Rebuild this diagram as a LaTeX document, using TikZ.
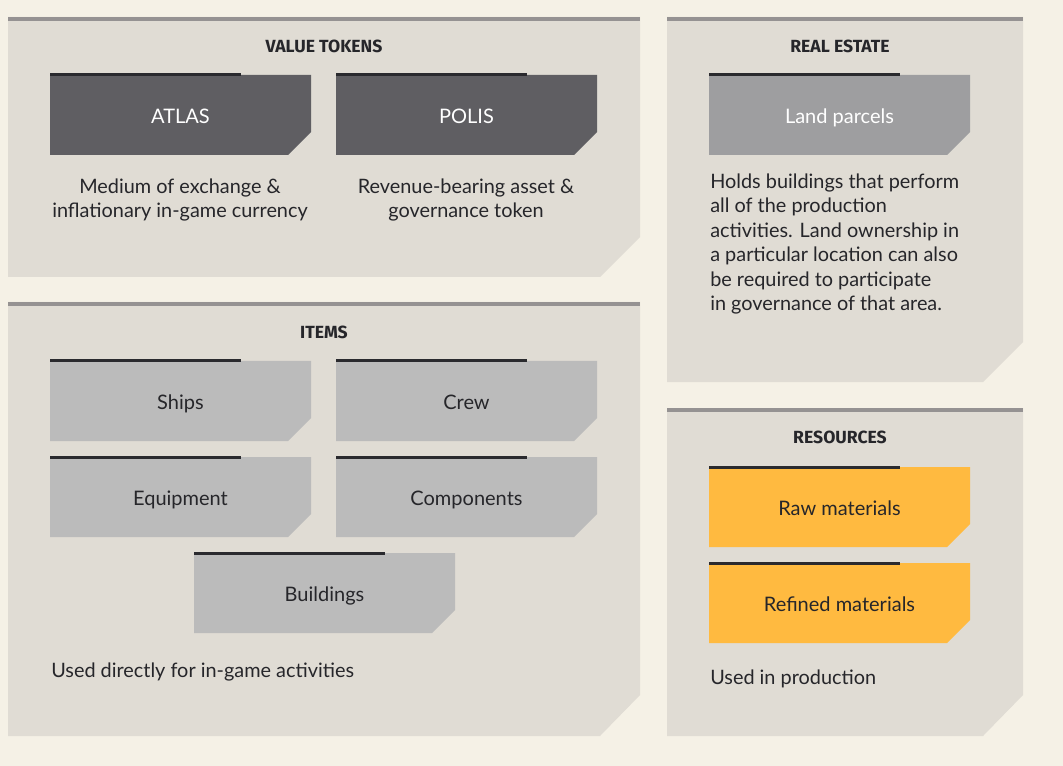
\documentclass[tikz,border=0pt]{standalone}
\usepackage{fontspec}
\setmainfont{Lato}
\newfontfamily\headfont{Fira Sans}
\usepackage{xcolor}
\usetikzlibrary{shapes.misc, positioning}
\definecolor{bgcream}{HTML}{F5F1E6}
\definecolor{panelgrey}{HTML}{E0DCD4}
\definecolor{bargrey}{HTML}{959292}
\definecolor{darkbox}{HTML}{5F5E62}
\definecolor{lightbox}{HTML}{BBBBBB}
\definecolor{midbox}{HTML}{9E9EA0}
\definecolor{amber}{HTML}{FFBA40}
\definecolor{inkline}{HTML}{2A2A2E}
\definecolor{ink}{HTML}{26262A}

\begin{document}
\begin{tikzpicture}[x=0.75pt, y=-0.75pt]
\tikzstyle{assetbox} = [chamfered rectangle, chamfered rectangle corners=south east, chamfered rectangle xsep=10.7pt, chamfered rectangle ysep=10.7pt, minimum width=195.75pt, minimum height=60pt, inner sep=0pt, outer sep=0pt, text height=13pt, text depth=0pt, font=\fontsize{15}{18}\selectfont, text=ink, fill=lightbox]
\tikzstyle{tokenbox} = [assetbox, fill=darkbox, text=white]
\tikzstyle{landbox} = [assetbox, fill=midbox, text=white]
\tikzstyle{resbox} = [assetbox, fill=amber]
\tikzstyle{heading} = [font=\headfont\bfseries\fontsize{13.2}{16}\selectfont, text=ink]
\tikzstyle{desc} = [font=\fontsize{14.9}{18.4}\selectfont, text=ink, inner sep=0pt]
\tikzstyle{panel} = [fill=panelgrey]
\tikzstyle{panelbar} = [draw=bargrey, line width=3pt]

% background
\fill[bgcream] (0,0) rectangle (1063,766);
\useasboundingbox (0,0) rectangle (1063,766);

% panels
\fill[panel] (8,17) -- (640,17) -- (640,237) -- (600,277) -- (8,277) -- cycle;
\fill[panel] (8,302) -- (640,302) -- (640,695) -- (600,736) -- (8,736) -- cycle;
\fill[panel] (667,17) -- (1023,17) -- (1023,342) -- (983,382) -- (667,382) -- cycle;
\fill[panel] (667,408) -- (1023,408) -- (1023,695) -- (983,736) -- (667,736) -- cycle;
\draw[panelbar] (8,19) -- (640,19);
\draw[panelbar] (8,304) -- (640,304);
\draw[panelbar] (667,19) -- (1023,19);
\draw[panelbar] (667,410) -- (1023,410);

% headings
\node (tokenshead) [heading] at (324,46) {VALUE TOKENS};
\node (itemshead) [heading] at (324,332) {ITEMS};
\node (estatehead) [heading] at (840,46) {REAL ESTATE};
\node (reshead) [heading] at (840,437) {RESOURCES};

% boxes
\node (atlas) [tokenbox] at (180.5,115) {ATLAS};
\node (polis) [tokenbox] at (466.5,115) {POLIS};
\node (land) [landbox] at (839.5,115) {Land parcels};
\node (ships) [assetbox] at (180.5,401) {Ships};
\node (crew) [assetbox] at (466.5,401) {Crew};
\node (equip) [assetbox] at (180.5,497) {Equipment};
\node (comps) [assetbox] at (466.5,497) {Components};
\node (build) [assetbox] at (324.5,593) {Buildings};
\node (raw) [resbox] at (839.5,507) {Raw materials};
\node (refined) [resbox] at (839.5,603) {Refined materials};

\foreach \b in {atlas,polis,land,ships,crew,equip,comps,build,raw,refined}
  \draw[inkline, line width=2.25pt] (\b.north west) -- ++(191,0);

% descriptions
\node (atlasdesc) [desc, align=center] at (180,200) {Medium of exchange \&\\inflationary in-game currency};
\node (polisdesc) [desc, align=center] at (466,200) {Revenue-bearing asset \&\\governance token};
\node (landdesc) [desc, align=left, anchor=west] at (710,244) {Holds buildings that perform\\all of the production\\activities. Land ownership in\\a particular location can also\\be required to participate\\in governance of that area.};
\node (itemsdesc) [desc, anchor=west] at (51,672) {Used directly for in-game activities};
\node (resdesc) [desc, anchor=west] at (710,679) {Used in production};

\end{tikzpicture}
\end{document}
